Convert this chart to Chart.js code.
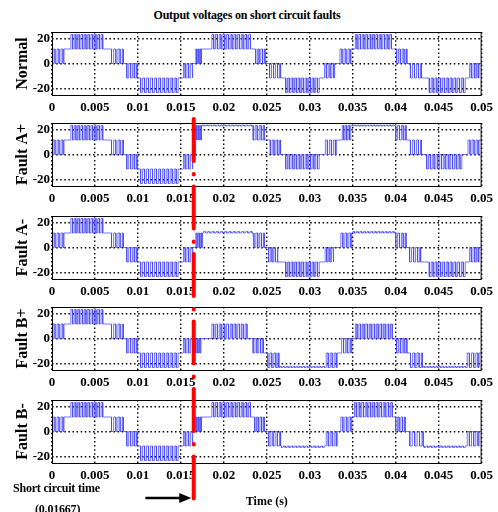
<!DOCTYPE html>
<html>
<head>
<meta charset="utf-8">
<title>Output voltages on short circuit faults</title>
<script src="https://cdn.jsdelivr.net/npm/chart.js@4.4.1/dist/chart.umd.min.js"></script>
<style>
  html, body { margin: 0; padding: 0; background: #fff; }
  #figure {
    position: relative; width: 498px; height: 512px; overflow: hidden;
    font-family: "Liberation Serif", "Times New Roman", serif; font-weight: bold; color: #000;
  }
  #figure canvas { position: absolute; left: 0; }
  .label { position: absolute; white-space: nowrap; font-size: 12px; line-height: 14px; letter-spacing: -0.2px; }
</style>
</head>
<body>
<div id="figure">
  <div class="label" style="left:0; width:494px; text-align:center; top:8px;">Output voltages on short circuit faults</div>
  <canvas id="overlay" width="498" height="512" style="top:0; z-index:5;"></canvas>
  <div class="label" style="left:13px; top:481px; z-index:6;">Short circuit time</div>
  <div class="label" style="left:35px; top:502px; z-index:6;">(0.01667)</div>
</div>

<script>
// Time axis (s) and voltage axis ticks
const timeTicks = [0, 0.005, 0.01, 0.015, 0.02, 0.025, 0.03, 0.035, 0.04, 0.045, 0.05];
const timeTickLabels = ["0", "0.005", "0.01", "0.015", "0.02", "0.025", "0.03", "0.035", "0.04", "0.045", "0.05"];
const voltTicks = [-20, 0, 20];
const voltTickLabels = ["-20", "0", "20"];
const plotNames = ["Normal", "Fault A+", "Fault A-", "Fault B+", "Fault B-"];
const faultTime = 0.01667;

// Waveform rows: [segment end time (s), base level, pulse level, pulse count]
// (pulse count 0 = flat level).

// identical on all five traces before the short circuit
const preFault = [
  [0.0014, 0, 11.5, 3],
  [0.0021, 11.5, 11.5, 0],
  [0.0060, 11.5, 23, 10],
  [0.0068, 11.5, 11.5, 0],
  [0.0083, 11.5, 0, 3],
  [0.0086, 0, 0, 0],
  [0.0099, 0, -11.5, 3],
  [0.0102, -11.5, -11.5, 0],
  [0.0148, -11.5, -23, 10],
  [0.0152, -11.5, -11.5, 0],
  [0.0164, -11.5, 0, 3],
  [0.01667, 0, 0, 0]
];

const normalPost = [
  [0.0174, 0, 11.5, 3],
  [0.0185, 11.5, 11.5, 0],
  [0.0232, 11.5, 23, 11],
  [0.0236, 11.5, 11.5, 0],
  [0.0248, 11.5, 0, 3],
  [0.0252, 0, 0, 0],
  [0.0266, 0, -11.5, 3],
  [0.0271, -11.5, -11.5, 0],
  [0.0312, -11.5, -23, 10],
  [0.0316, -11.5, -11.5, 0],
  [0.0329, -11.5, 0, 3],
  [0.0334, 0, 0, 0],
  [0.0348, 0, 11.5, 3],
  [0.0352, 11.5, 11.5, 0],
  [0.0396, 11.5, 23, 11],
  [0.0400, 11.5, 11.5, 0],
  [0.0413, 11.5, 0, 3],
  [0.0416, 0, 0, 0],
  [0.0430, 0, -11.5, 3],
  [0.0438, -11.5, -11.5, 0],
  [0.0482, -11.5, -23, 10],
  [0.0485, -11.5, -11.5, 0],
  [0.0497, -11.5, 0, 3],
  [0.0500, 0, 0, 0]
];

const faultAPlusPost = [
  [0.0174, 11.5, 23, 3],
  [0.0233, 22.6, 23.4, 14],
  [0.0247, 23, 11.5, 3],
  [0.0253, 11.5, 11.5, 0],
  [0.0266, 11.5, 0, 3],
  [0.0271, 0, 0, 0],
  [0.0312, 0, -11.5, 10],
  [0.0317, 0, 0, 0],
  [0.0331, 0, 11.5, 3],
  [0.0337, 11.5, 11.5, 0],
  [0.0347, 11.5, 23, 3],
  [0.0399, 22.6, 23.4, 14],
  [0.0412, 23, 11.5, 3],
  [0.0416, 11.5, 11.5, 0],
  [0.0430, 11.5, 0, 3],
  [0.0435, 0, 0, 0],
  [0.0478, 0, -11.5, 10],
  [0.0483, 0, 0, 0],
  [0.0497, 0, 11.5, 3],
  [0.0500, 11.5, 11.5, 0]
];

const faultAMinusPost = [
  [0.0175, 0, 11.5, 3],
  [0.0234, 11.5, 12.6, 12],
  [0.0247, 11.5, 0, 3],
  [0.0251, 0, 0, 0],
  [0.0263, 0, -11.5, 3],
  [0.0271, -11.5, -11.5, 0],
  [0.0312, -11.5, -23, 10],
  [0.0317, -11.5, -11.5, 0],
  [0.0328, -11.5, 0, 3],
  [0.0335, 0, 0, 0],
  [0.0349, 0, 11.5, 3],
  [0.0399, 11.5, 12.6, 12],
  [0.0412, 11.5, 0, 3],
  [0.0415, 0, 0, 0],
  [0.0429, 0, -11.5, 3],
  [0.0438, -11.5, -11.5, 0],
  [0.0482, -11.5, -23, 10],
  [0.0485, -11.5, -11.5, 0],
  [0.0497, -11.5, 0, 3],
  [0.0500, 0, 0, 0]
];

const faultBPlusPost = [
  [0.0174, 0, -11.5, 3],
  [0.0185, 0, 0, 0],
  [0.0228, 0, 11.5, 10],
  [0.0233, 0, 0, 0],
  [0.0246, 0, -11.5, 3],
  [0.0250, -11.5, -11.5, 0],
  [0.0264, -11.5, -23, 3],
  [0.0318, -23, -22.2, 14],
  [0.0332, -23, -11.5, 3],
  [0.0336, -11.5, -11.5, 0],
  [0.0349, -11.5, 0, 3],
  [0.0352, 0, 0, 0],
  [0.0397, 0, 11.5, 11],
  [0.0400, 0, 0, 0],
  [0.0413, 0, -11.5, 3],
  [0.0416, -11.5, -11.5, 0],
  [0.0431, -11.5, -23, 3],
  [0.0482, -23, -22.2, 14],
  [0.0497, -23, -11.5, 3],
  [0.0500, -11.5, -11.5, 0]
];

const faultBMinusPost = [
  [0.0174, 0, 11.5, 3],
  [0.0185, 11.5, 11.5, 0],
  [0.0232, 11.5, 23, 11],
  [0.0235, 11.5, 11.5, 0],
  [0.0247, 11.5, 0, 3],
  [0.0251, 0, 0, 0],
  [0.0266, 0, -11.5, 3],
  [0.0318, -11.5, -12.6, 12],
  [0.0332, -11.5, 0, 3],
  [0.0335, 0, 0, 0],
  [0.0349, 0, 11.5, 3],
  [0.0351, 11.5, 11.5, 0],
  [0.0397, 11.5, 23, 11],
  [0.0399, 11.5, 11.5, 0],
  [0.0411, 11.5, 0, 3],
  [0.0415, 0, 0, 0],
  [0.0432, 0, -11.5, 3],
  [0.0482, -11.5, -12.6, 12],
  [0.0497, -11.5, 0, 3],
  [0.0500, 0, 0, 0]
];

const postFault = [normalPost, faultAPlusPost, faultAMinusPost, faultBPlusPost, faultBMinusPost];

// Layout (page pixels)
const plotTops = [32, 123, 216, 307, 400];
const plotHeight = 63;
const padTop = 10;
const serif = "'Liberation Serif', 'Times New Roman', serif";
const traceColor = "rgb(70, 70, 255)";

// Turn the rows into a point list (vertical edges as duplicated x values)
function buildTrace(rows) {
  const pts = [];
  let t0 = 0;
  let level = rows[0][1];
  pts.push({ x: 0, y: level });
  rows.forEach(function (row) {
    const [t1, base, peak, pulses] = row;
    if (base !== level) pts.push({ x: t0, y: base });
    if (pulses > 0) {
      const w = (t1 - t0) / pulses;
      for (let k = 0; k < pulses; k++) {
        const a = t0 + w * (k + 0.25);
        const b = t0 + w * (k + 0.75);
        pts.push({ x: a, y: base }, { x: a, y: peak }, { x: b, y: peak }, { x: b, y: base });
      }
    }
    pts.push({ x: t1, y: base });
    level = base;
    t0 = t1;
  });
  return pts;
}

// Solid box round each axes
const framePlugin = {
  id: "frame",
  afterDatasetsDraw(chart) {
    const { ctx, chartArea: a } = chart;
    ctx.save();
    ctx.strokeStyle = "#000";
    ctx.lineWidth = 1;
    ctx.strokeRect(a.left + 0.5, a.top + 0.5, a.right - a.left - 1, a.bottom - a.top);
    ctx.restore();
  }
};

const figure = document.getElementById("figure");
const charts = [];

plotNames.forEach(function (name, i) {
  const isLast = i === plotNames.length - 1;
  const xAxisHeight = isLast ? 49 : 24;
  const canvas = document.createElement("canvas");
  canvas.width = 498;
  canvas.height = padTop + plotHeight + xAxisHeight;
  canvas.style.top = plotTops[i] - padTop + "px";
  figure.insertBefore(canvas, document.getElementById("overlay"));

  charts.push(new Chart(canvas, {
    type: "line",
    data: {
      datasets: [{
        data: buildTrace(preFault.concat(postFault[i])),
        borderColor: traceColor,
        borderWidth: 0.75,
        pointRadius: 0,
        tension: 0,
        fill: false
      }]
    },
    options: {
      responsive: false,
      animation: false,
      events: [],
      layout: { padding: { top: padTop, right: 12, left: 0, bottom: 0 } },
      plugins: { legend: { display: false }, tooltip: { enabled: false } },
      scales: {
        x: {
          type: "linear",
          min: 0,
          max: 0.05,
          afterBuildTicks: function (axis) { axis.ticks = timeTicks.map(v => ({ value: v })); },
          afterFit: function (axis) { axis.height = xAxisHeight; },
          ticks: {
            callback: v => timeTickLabels[timeTicks.indexOf(v)],
            font: { family: serif, size: 13, weight: "bold" },
            color: "#000",
            padding: 5,
            maxRotation: 0,
            autoSkip: false
          },
          grid: { color: "#000", lineWidth: 1.4, drawTicks: false },
          border: { display: false, dash: [1.5, 2.6] },
          title: {
            display: isLast,
            text: "Time (s)",
            color: "#000",
            font: { family: serif, size: 12, weight: "bold" },
            padding: { top: 0, bottom: 3 }
          }
        },
        y: {
          min: -25,
          max: 25,
          afterBuildTicks: function (axis) { axis.ticks = voltTicks.map(v => ({ value: v })); },
          afterFit: function (axis) { axis.width = 52; },
          ticks: {
            callback: v => voltTickLabels[voltTicks.indexOf(v)],
            font: { family: serif, size: 13, weight: "bold" },
            color: "#000",
            padding: 2
          },
          grid: { color: "#000", lineWidth: 1.4, drawTicks: false },
          border: { display: false, dash: [1.5, 2.6] },
          title: {
            display: true,
            text: name,
            color: "#000",
            font: { family: serif, size: 16, weight: "bold" },
            padding: { top: 13, bottom: 0 }
          }
        }
      }
    },
    plugins: [framePlugin]
  }));
});

// Red short-circuit marker across the fault plots, and the arrow pointing at it
function drawOverlay() {
  const ctx = document.getElementById("overlay").getContext("2d");
  const xScale = charts[charts.length - 1].scales.x;
  const faultX = xScale.getPixelForValue(faultTime);

  ctx.save();
  ctx.strokeStyle = "#ff0000";
  ctx.lineWidth = 4;
  ctx.lineCap = "round";
  ctx.setLineDash([42, 13, 0.5, 12]);
  ctx.beginPath();
  ctx.moveTo(faultX - 1.5, plotTops[1] - 4);
  ctx.lineTo(faultX - 1.5, 508);
  ctx.stroke();
  ctx.restore();

  const arrowY = 498;
  const startX = xScale.getPixelForValue(faultTime - 0.0058);
  const tipX = faultX - 4;
  ctx.save();
  ctx.strokeStyle = "#000";
  ctx.fillStyle = "#000";
  ctx.lineWidth = 2.5;
  ctx.beginPath();
  ctx.moveTo(startX, arrowY);
  ctx.lineTo(tipX - 8, arrowY);
  ctx.stroke();
  ctx.beginPath();
  ctx.moveTo(tipX, arrowY);
  ctx.lineTo(tipX - 12, arrowY - 5);
  ctx.lineTo(tipX - 12, arrowY + 5);
  ctx.closePath();
  ctx.fill();
  ctx.restore();
}

drawOverlay();
</script>
</body>
</html>
